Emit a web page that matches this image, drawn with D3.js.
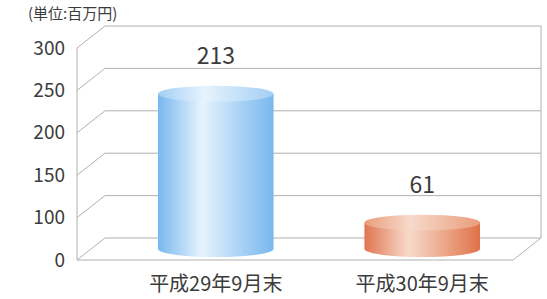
<!DOCTYPE html>
<html>
<head>
<meta charset="utf-8">
<script src="https://cdn.jsdelivr.net/npm/d3@7"></script>
<style>
  body { margin: 0; background: #fff; }
  svg { display: block; font-family: "Noto Sans CJK JP", "Noto Sans", sans-serif; }
</style>
</head>
<body>
<div id="chart"></div>
<script>
// data
const categories = ["平成29年9月末", "平成30年9月末"];
const values = [213, 61];
const barColors = [
  ["#78b7ee", "#e6f3fd", "#a3cff4", "#7ab8ee"],
  ["#e07550", "#f7dacb", "#ea9d7c", "#de7249"]
];
// the lowest gridline carries the "0" label in the original
const tickValues = [50, 100, 150, 200, 250, 300];
const tickLabels = ["0", "100", "150", "200", "250", "300"];
const unitLabel = "(単位:百万円)";

const W = 547, H = 299;
const svg = d3.select("#chart").append("svg").attr("width", W).attr("height", H);

// front plane + depth offset for the fake 3d box
const left = 77, right = 513;
const dx = 28, dy = -22;
const y = d3.scaleLinear().domain([50, 300]).range([260, 48]);
const x = d3.scaleBand().domain(categories).range([158, 480]).paddingInner(0.44);

const gridColor = "#b0b0b0";
const textColor = "#3c3c3c";

// back wall gridlines and their diagonal links to the front axis
const grid = svg.append("g").attr("stroke", gridColor).attr("stroke-width", 1).attr("fill", "none");
grid.selectAll("path.g").data(tickValues).join("path").attr("class", "g")
  .attr("d", d => `M${left},${y(d)}L${left + dx},${y(d) + dy}L${right + dx},${y(d) + dy}`);
// front axis, floor edge, right back edge
grid.append("path").attr("d", `M${left},${y(300)}L${left},${y(50)}L${right},${y(50)}L${right + dx},${y(50) + dy}`);
grid.append("path").attr("d", `M${right + dx},${y(300) + dy}L${right + dx},${y(50) + dy}`);

// tick labels
svg.append("g").attr("transform", `translate(${left},0)`)
  .call(d3.axisLeft(y).tickValues(tickValues).tickFormat((d, i) => tickLabels[i]).tickSize(0).tickPadding(12))
  .call(g => g.select(".domain").remove())
  .selectAll("text").attr("fill", textColor).style("font-size", "19px")
  .style("font-family", "'Noto Sans CJK JP', sans-serif");

svg.append("text").attr("x", 28).attr("y", 19).attr("fill", textColor)
  .style("font-size", "15px").text(unitLabel);

// gradients for cylinders
const defs = svg.append("defs");
barColors.forEach((c, i) => {
  const g = defs.append("linearGradient").attr("id", "body" + i).attr("x1", 0).attr("x2", 1).attr("y1", 0).attr("y2", 0);
  g.append("stop").attr("offset", "0%").attr("stop-color", c[0]);
  g.append("stop").attr("offset", "38%").attr("stop-color", c[1]);
  g.append("stop").attr("offset", "75%").attr("stop-color", c[2]);
  g.append("stop").attr("offset", "100%").attr("stop-color", c[3]);
  const t = defs.append("linearGradient").attr("id", "top" + i).attr("x1", 0).attr("x2", 1).attr("y1", 0).attr("y2", 0);
  t.append("stop").attr("offset", "0%").attr("stop-color", c[2]);
  t.append("stop").attr("offset", "40%").attr("stop-color", c[1]);
  t.append("stop").attr("offset", "100%").attr("stop-color", c[2]);
});

const rx = x.bandwidth() / 2, ry = 8;
const floorY = y(50) + dy / 2;
const capLift = 6;
const topY = v => y(v) + dy - capLift;

const bars = svg.append("g").selectAll("g").data(values).join("g");
bars.append("path")
  .attr("d", (d, i) => {
    const x0 = x(categories[i]), x1 = x0 + x.bandwidth();
    return `M${x0},${topY(d)}L${x0},${floorY}A${rx},${ry} 0 0 0 ${x1},${floorY}L${x1},${topY(d)}Z`;
  })
  .attr("fill", (d, i) => `url(#body${i})`);
bars.append("ellipse")
  .attr("cx", (d, i) => x(categories[i]) + rx).attr("cy", d => topY(d))
  .attr("rx", rx).attr("ry", ry)
  .attr("fill", (d, i) => `url(#top${i})`);

// value labels
bars.append("text")
  .attr("x", (d, i) => x(categories[i]) + rx).attr("y", d => topY(d) - 30)
  .attr("text-anchor", "middle").attr("fill", textColor).style("font-size", "23px")
  .text(d => d);

// category labels
svg.append("g").selectAll("text").data(categories).join("text")
  .attr("x", d => x(d) + rx).attr("y", 291)
  .attr("text-anchor", "middle").attr("fill", textColor).style("font-size", "20px")
  .text(d => d);
</script>
</body>
</html>
